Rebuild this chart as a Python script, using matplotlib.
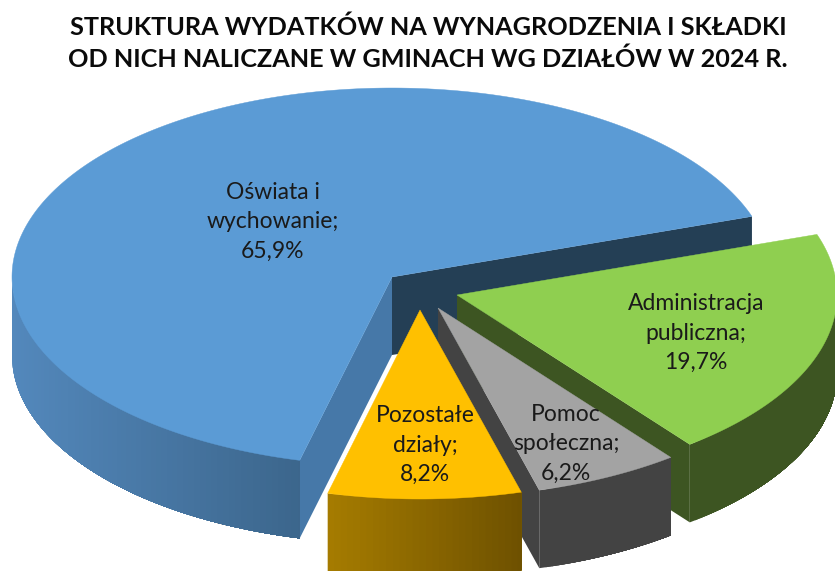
import numpy as np
import matplotlib
matplotlib.use("Agg")
import matplotlib.pyplot as plt
from matplotlib.patches import Polygon
from matplotlib.colors import to_rgb

title = "STRUKTURA WYDATKÓW NA WYNAGRODZENIA I SKŁADKI\nOD NICH NALICZANE W GMINACH WG DZIAŁÓW W 2024 R."
categories = ["Oświata i\nwychowanie;", "Administracja\npubliczna;", "Pomoc\nspołeczna;", "Pozostałe\ndziały;"]
values = [65.9, 19.7, 6.2, 8.2]
value_labels = ["65,9%", "19,7%", "6,2%", "8,2%"]

top_colors = ["#5B9BD5", "#8FCF50", "#A3A3A3", "#FFC000"]
radial_colors = ["#243F55", "#3D5522", "#434343", "#A67C00"]
side_radial = "#4678A8"
wall_from = ["#5388BC", "#3D5522", "#434343", "#A67C00"]
wall_to = ["#3C668C", "#3D5522", "#434343", "#6E5100"]
apexes = [(392, 277), (457, 295), (438, 308), (420, 310)]
label_xy = [(273, 222), (696, 333), (566, 444), (425, 445)]

RX, RY, DEPTH = 380, 189, 78
START = 18.7

fig = plt.figure(figsize=(8.35, 5.71), dpi=100)
ax = fig.add_axes([0, 0, 1, 1])
ax.set_xlim(0, 835)
ax.set_ylim(571, 0)
ax.axis("off")


def pt(apex, deg, dz=0):
    t = np.radians(deg)
    return apex[0] + RX * np.cos(t), apex[1] - RY * np.sin(t) + dz


def draw_slice(i, a0, a1):
    """Slice covering a0..a1 degrees (counter-clockwise)."""
    apex = apexes[i]
    # radial walls that face the viewer
    for ang, normal, col in ((a0, a0 - 90, radial_colors[i]),
                             (a1, a1 + 90, side_radial if i == 0 else radial_colors[i])):
        if np.sin(np.radians(normal)) < 0:
            quad = [apex, pt(apex, ang), pt(apex, ang, DEPTH), (apex[0], apex[1] + DEPTH)]
            ax.add_patch(Polygon(quad, closed=True, fc=col, ec="none", zorder=i * 3 + 1))
    # outer wall where it faces the viewer (sin < 0); overlapping strips hide the seams
    angs = np.append(np.arange(a0, a1, 1.0), a1)
    vis = angs[np.sin(np.radians(angs)) <= 0]
    if len(vis) > 1:
        c0, c1 = np.array(to_rgb(wall_from[i])), np.array(to_rgb(wall_to[i]))
        xs = [pt(apex, a)[0] for a in vis]
        lo, hi = min(xs), max(xs)
        n = len(vis)
        for k in range(n - 1):
            xm = (xs[k] + xs[k + 1]) / 2
            f = (xm - lo) / max(hi - lo, 1)
            col = tuple(c0 + (c1 - c0) * f)
            span = vis[k:]  # strip runs to the end, later strips paint over it
            upper = [pt(apex, a) for a in span]
            lower = [pt(apex, a, DEPTH) for a in span[::-1]]
            ax.add_patch(Polygon(upper + lower, closed=True, fc=col, ec="none", zorder=i * 3 + 2))
    # top face
    ts = np.append(np.arange(a0, a1, 0.5), a1)
    outline = [apex] + [pt(apex, t) for t in ts]
    ax.add_patch(Polygon(outline, closed=True, fc=top_colors[i], ec=top_colors[i], lw=0.3, zorder=i * 3 + 3))


total = sum(values)
sweeps = [v / total * 360 for v in values]

# Blue runs counter-clockwise from START; the rest follow clockwise from START.
draw_slice(0, START, START + sweeps[0])
edge = START
for i in (1, 2, 3):
    draw_slice(i, edge - sweeps[i], edge)
    edge -= sweeps[i]

for (x, y), c, v in zip(label_xy, categories, value_labels):
    ax.text(x, y, f"{c}\n{v}", ha="center", va="center", fontsize=16.5, family=["Lato", "DejaVu Sans"],
            color="#1a1a1a", linespacing=1.48, zorder=30)

ax.text(428, 43, title, ha="center", va="center", fontsize=18.2, fontweight="bold",
        family=["Lato", "DejaVu Sans"], color="#0a0a0a", linespacing=1.42, zorder=30)

fig.savefig("out.png", dpi=100)
